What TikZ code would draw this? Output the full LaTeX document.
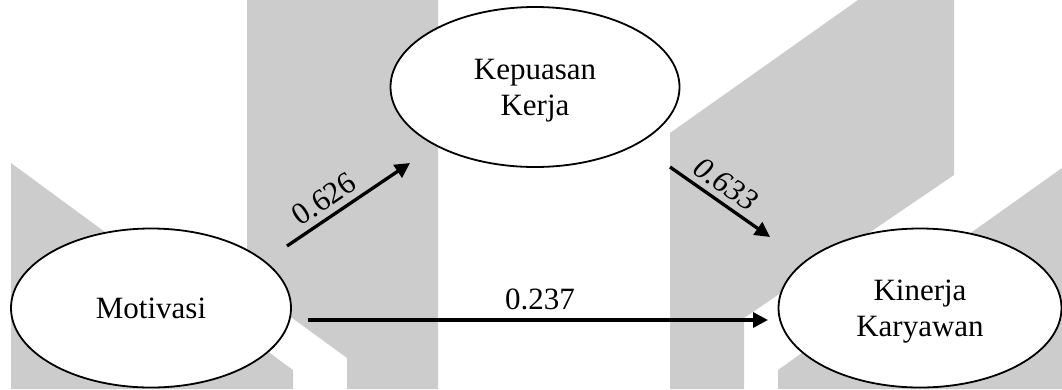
\documentclass[tikz,border=0pt]{standalone}
\usepackage{fontspec}
\setmainfont{Liberation Serif}
\usetikzlibrary{shapes.geometric,arrows.meta}
\definecolor{wm}{RGB}{204,204,204}
\tikzset{
  var/.style={ellipse, draw=black, line width=1.8pt, fill=white, inner sep=0pt, align=center,
    text depth=0pt, font=\fontsize{31}{36}\selectfont},
  arr/.style={line width=3.3pt, -{Triangle[length=15pt,width=15pt]}},
  coef/.style={font=\fontsize{31}{36}\selectfont, inner sep=0pt},
  wmark/.style={fill=wm, draw=none}
}
\begin{document}
\begin{tikzpicture}[x=1pt,y=-1pt]
\useasboundingbox (0,0) rectangle (1062,389);
% watermark
\fill[wmark] (11,163) -- (293,370) -- (293,389) -- (11,389) -- cycle;
\fill[wmark] (247,0) -- (438,0) -- (438,389) -- (347,389) -- (347,358) -- (247,285) -- cycle;
\fill[wmark] (670,133) -- (858,0) -- (954,0) -- (954,175) -- (744,318) -- (744,389) -- (670,389) -- cycle;
\fill[wmark] (778,370) -- (1062,168) -- (1062,389) -- (778,389) -- cycle;
% nodes
\node[var, minimum width=280pt, minimum height=159pt] (mot) at (151,308) {Motivasi};
\node[var, minimum width=289pt, minimum height=160pt] (kep) at (535,87) {Kepuasan\\Kerja};
\node[var, minimum width=283pt, minimum height=159pt] (kin) at (920,308) {Kinerja\\Karyawan};
% connector endpoints
\coordinate (a1s) at (287,246);
\coordinate (a1e) at (410,163);
\coordinate (a2s) at (670,167);
\coordinate (a2e) at (770,237);
\coordinate (a3s) at (308,320);
\coordinate (a3e) at (768,320);
\draw[arr] (a1s) -- (a1e);
\draw[arr] (a2s) -- (a2e);
\draw[arr] (a3s) -- (a3e);
% coefficients
\node[coef, rotate=34] (c1) at (324,199) {0.626};
\node[coef, rotate=-35, font=\fontsize{31}{36}\selectfont\itshape] (c2) at (726,184) {0.633};
\node[coef, anchor=base] (c3) at (540,309) {0.237};
\end{tikzpicture}
\end{document}
